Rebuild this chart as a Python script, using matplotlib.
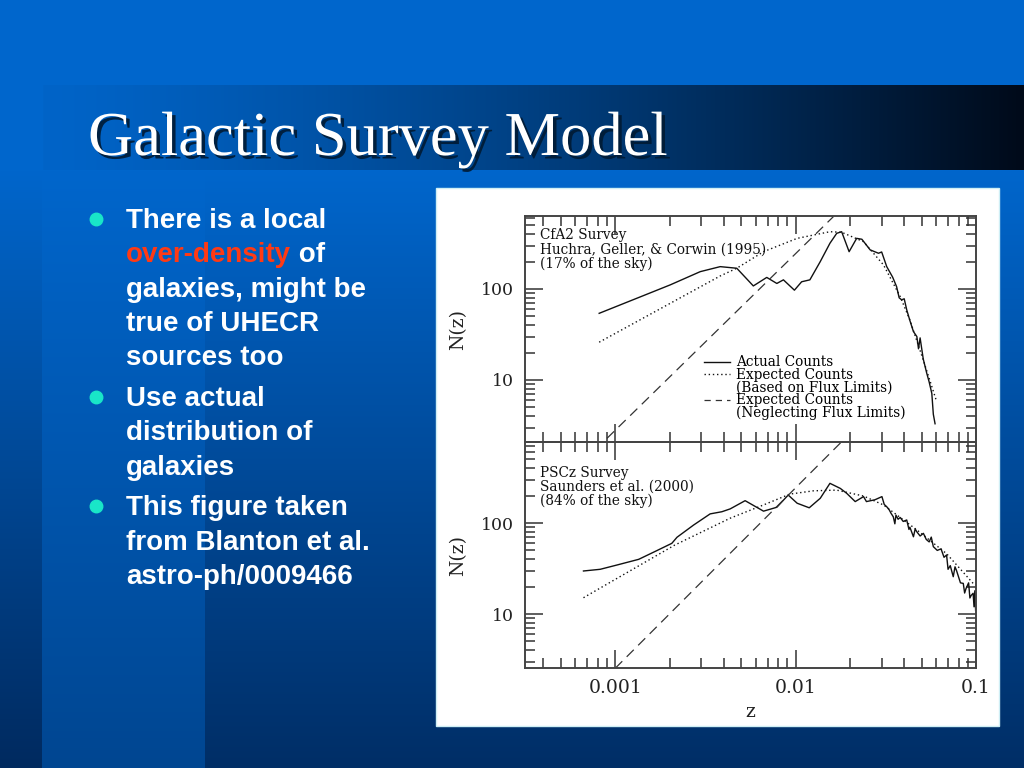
import numpy as np
import matplotlib
matplotlib.use('Agg')
import matplotlib.pyplot as plt
import matplotlib.patheffects as pe
from matplotlib.patches import Rectangle
from matplotlib.lines import Line2D
from matplotlib.ticker import FuncFormatter, LogLocator, NullFormatter

# ---- data ----
# CfA2 survey (top panel)
cfa_actual_z = [0.000815, 0.00138, 0.00202, 0.00296, 0.00382, 0.00472, 0.00583, 0.00692,
                0.00787, 0.00856, 0.00985, 0.0108, 0.0120, 0.0137, 0.0155, 0.0169, 0.0180,
                0.0198, 0.0218, 0.0233, 0.0259, 0.0288, 0.0300, 0.0320, 0.0345, 0.0363,
                0.0375, 0.0387, 0.0400, 0.0413, 0.0430, 0.0450, 0.0470, 0.0480, 0.0490,
                0.0510, 0.0533, 0.0550, 0.0569, 0.0580, 0.0593]
cfa_actual_n = [54, 82, 111, 155, 176, 169, 108, 134, 115, 126, 97, 120, 126, 200, 318, 409, 426,
                257, 360, 352, 269, 247, 255, 176, 135, 106, 80, 76, 78, 59, 45, 34, 30, 22, 29,
                17, 11.9, 9.5, 7.1, 4.2, 3.3]
cfa_flux_z = [0.000815, 0.00382, 0.00472, 0.00664, 0.0102, 0.0155, 0.0180, 0.0238, 0.0307,
              0.0380, 0.0430, 0.0510, 0.0605]
cfa_flux_n = [26, 139, 169, 257, 360, 426, 420, 331, 184, 82.5, 45.6, 16.6, 5.8]
cfa_noflux_z = [0.0009, 0.0162]
cfa_noflux_n = [2.28, 624]

# PSCz survey (bottom panel)
psc_actual_z = [0.000667, 0.000826, 0.00102, 0.00135, 0.0017, 0.00206, 0.0022, 0.00272,
                0.00336, 0.0039, 0.00434, 0.00525, 0.00664, 0.00787, 0.0091, 0.0102, 0.0119,
                0.0137, 0.0155, 0.0177, 0.0192, 0.0214, 0.0238, 0.0247, 0.0275, 0.0301,
                0.0310, 0.0320, 0.0330, 0.0338, 0.0348, 0.0355, 0.0360, 0.0370, 0.0380,
                0.0395, 0.0413, 0.0425, 0.0430, 0.0450, 0.0460, 0.0470, 0.0490, 0.0511,
                0.0530, 0.0550, 0.0565, 0.0580, 0.0610, 0.0640, 0.0665, 0.0687, 0.0700,
                0.0720, 0.0748, 0.0765, 0.0780, 0.0820, 0.0850, 0.0865, 0.0880, 0.0910,
                0.0925, 0.0940, 0.0964, 0.0975, 0.0985, 0.0995]
psc_actual_n = [29.7, 31, 34.5, 39.9, 49.7, 59.8, 69.7, 95, 126, 133, 143, 176, 135, 149, 203,
                165, 147, 187, 273, 240, 212, 172, 195, 172, 180, 195, 160, 151, 140, 128, 117,
                98, 122, 110, 115, 104, 108, 85, 90, 70.6, 86, 80, 72, 77, 66, 62, 70, 55, 50,
                52, 42, 44.5, 31, 34, 25.7, 33, 30, 22, 21.7, 17, 19, 22, 15, 16, 16.9, 12,
                18, 11]
psc_flux_z = [0.000667, 0.00213, 0.00434, 0.00664, 0.0093, 0.0126, 0.0169, 0.0238, 0.0307,
              0.0470, 0.0687, 0.0964]
psc_flux_n = [15.1, 57, 113, 158, 208, 226, 230, 198, 158, 84, 46, 21.7]
psc_noflux_z = [0.001, 0.018]
psc_noflux_n = [2.53, 782]

panels = [
    dict(z=(cfa_actual_z, cfa_flux_z, cfa_noflux_z), n=(cfa_actual_n, cfa_flux_n, cfa_noflux_n),
         note="CfA2 Survey\nHuchra, Geller, & Corwin (1995)\n(17% of the sky)", ylim=(2.08, 634),
         note_y=0.945),
    dict(z=(psc_actual_z, psc_flux_z, psc_noflux_z), n=(psc_actual_n, psc_flux_n, psc_noflux_n),
         note="PSCz Survey\nSaunders et al. (2000)\n(84% of the sky)", ylim=(2.55, 777),
         note_y=0.895),
]

title = "Galactic Survey Model"
bullets = [
    [[("There is a local", 'white')],
     [("over-density", '#FF3A14'), (" of", 'white')],
     [("galaxies, might be", 'white')],
     [("true of UHECR", 'white')],
     [("sources too", 'white')]],
    [[("Use actual", 'white')],
     [("distribution of", 'white')],
     [("galaxies", 'white')]],
    [[("This figure taken", 'white')],
     [("from Blanton et al.", 'white')],
     [("astro-ph/0009466", 'white')]],
]

# ---- slide background ----
W, H = 1024, 768
img = np.zeros((H, W, 3))
top = np.array([0, 102, 204]) / 255
img[:, :] = top
yy = np.arange(H)
t = np.clip((yy - 170) / (H - 170), 0, 1)[:, None]
for x0, x1, bot in [(0, 42, (0, 42, 95)), (42, 205, (0, 70, 145)), (205, W, (0, 46, 102))]:
    b = np.array(bot) / 255
    img[170:, x0:x1] = (top * (1 - t[170:]) + b * t[170:])[:, None, :]
xs = np.clip((np.arange(W) - 43) / (W - 43), 0, 1)[:, None] ** 1.3
band = np.array([0, 100, 200]) / 255 * (1 - xs) + np.array([0, 10, 25]) / 255 * xs
img[85:170, 43:] = band[43:][None, :, :]

fig = plt.figure(figsize=(10.24, 7.68), dpi=100)
bg = fig.add_axes([0, 0, 1, 1])
bg.imshow(img, extent=(0, W, H, 0), aspect='auto', zorder=0)
bg.set_xlim(0, W)
bg.set_ylim(H, 0)
bg.axis('off')
bg.add_patch(Rectangle((436, 188), 563, 538, facecolor='white', edgecolor='#cfeff5', lw=1, zorder=1))

bg.text(88, 155, title, fontsize=45, family='Liberation Serif', color='white', zorder=3,
        path_effects=[pe.withSimplePatchShadow(offset=(2.5, -2.5), shadow_rgbFace='#001a33', alpha=0.9)])

# bullets
y = 228
for item in bullets:
    bg.plot([96], [y - 9], 'o', color='#19E6C8', markersize=9, zorder=3)
    for line in item:
        prev = None
        for txt, col in line:
            kw = dict(fontsize=20, family='Liberation Sans', weight='bold', color=col, zorder=3)
            if prev is None:
                prev = bg.text(126, y, txt, **kw)
            else:
                prev = bg.annotate(txt, xy=(1, 0), xycoords=prev, va='bottom', **kw)
        y += 34.3
    y += 6.5

# ---- the two panels ----
serif = 'DejaVu Serif'
fmt = FuncFormatter(lambda v, p: f"{v:g}")
axes = []
for i, p in enumerate(panels):
    ax = fig.add_axes([525 / W, (1 - (442 + 226 * i) / H), 451 / W, 226 / H])
    za, zf, zn = p['z']
    na, nf, nn = p['n']
    ax.plot(za, na, '-', color='#111', lw=1.0)
    ax.plot(zf, nf, ':', color='#111', lw=1.0, dashes=(1, 2))
    ax.plot(zn, nn, '--', color='#333', lw=0.9, dashes=(8, 5))
    ax.set_xscale('log')
    ax.set_yscale('log')
    ax.set_xlim(10 ** -3.5, 0.1)
    ax.set_ylim(*p['ylim'])
    ax.xaxis.set_major_locator(LogLocator(base=10, numticks=10))
    ax.yaxis.set_major_formatter(fmt)
    ax.xaxis.set_major_formatter(fmt)
    ax.xaxis.set_minor_formatter(NullFormatter())
    ax.yaxis.set_minor_formatter(NullFormatter())
    ax.tick_params(which='both', direction='in', top=True, right=True, color='#333', width=1.1,
                   labelcolor='#222')
    ax.tick_params(axis='y', labelsize=12.5)
    ax.tick_params(axis='x', labelsize=13.5)
    ax.tick_params(which='major', length=13, pad=8)
    ax.tick_params(which='minor', length=7)
    for lab in ax.get_xticklabels() + ax.get_yticklabels():
        lab.set_family(serif)
    for s in ax.spines.values():
        s.set_color('#444')
        s.set_linewidth(1.4)
    ax.set_ylabel('N(z)', family=serif, fontsize=13.5, color='#222', labelpad=10)
    ax.text(0.033, p['note_y'], p['note'], transform=ax.transAxes, va='top', ha='left',
            family=serif, fontsize=9.8, color='#111', linespacing=1.0)
    ax.set_facecolor('none')
    axes.append(ax)

axes[0].tick_params(labelbottom=False)
axes[1].set_xlabel('z', family=serif, fontsize=13.5, color='#222', labelpad=4)

handles = [Line2D([], [], color='#111', lw=1.0),
           Line2D([], [], color='#111', lw=1.0, ls=':', dashes=(1, 2)),
           Line2D([], [], color='none'),
           Line2D([], [], color='#333', lw=0.9, ls='--', dashes=(5, 4)),
           Line2D([], [], color='none')]
labels = ["Actual Counts", "Expected Counts", "(Based on Flux Limits)", "Expected Counts",
          "(Neglecting Flux Limits)"]
axes[0].legend(handles, labels, loc='upper left', bbox_to_anchor=(0.398, 0.383), frameon=False,
               prop={'family': serif, 'size': 9.8}, handlelength=1.9, handletextpad=0.45,
               labelspacing=-0.1, borderpad=0, borderaxespad=0)

fig.savefig('out.png', dpi=100)
